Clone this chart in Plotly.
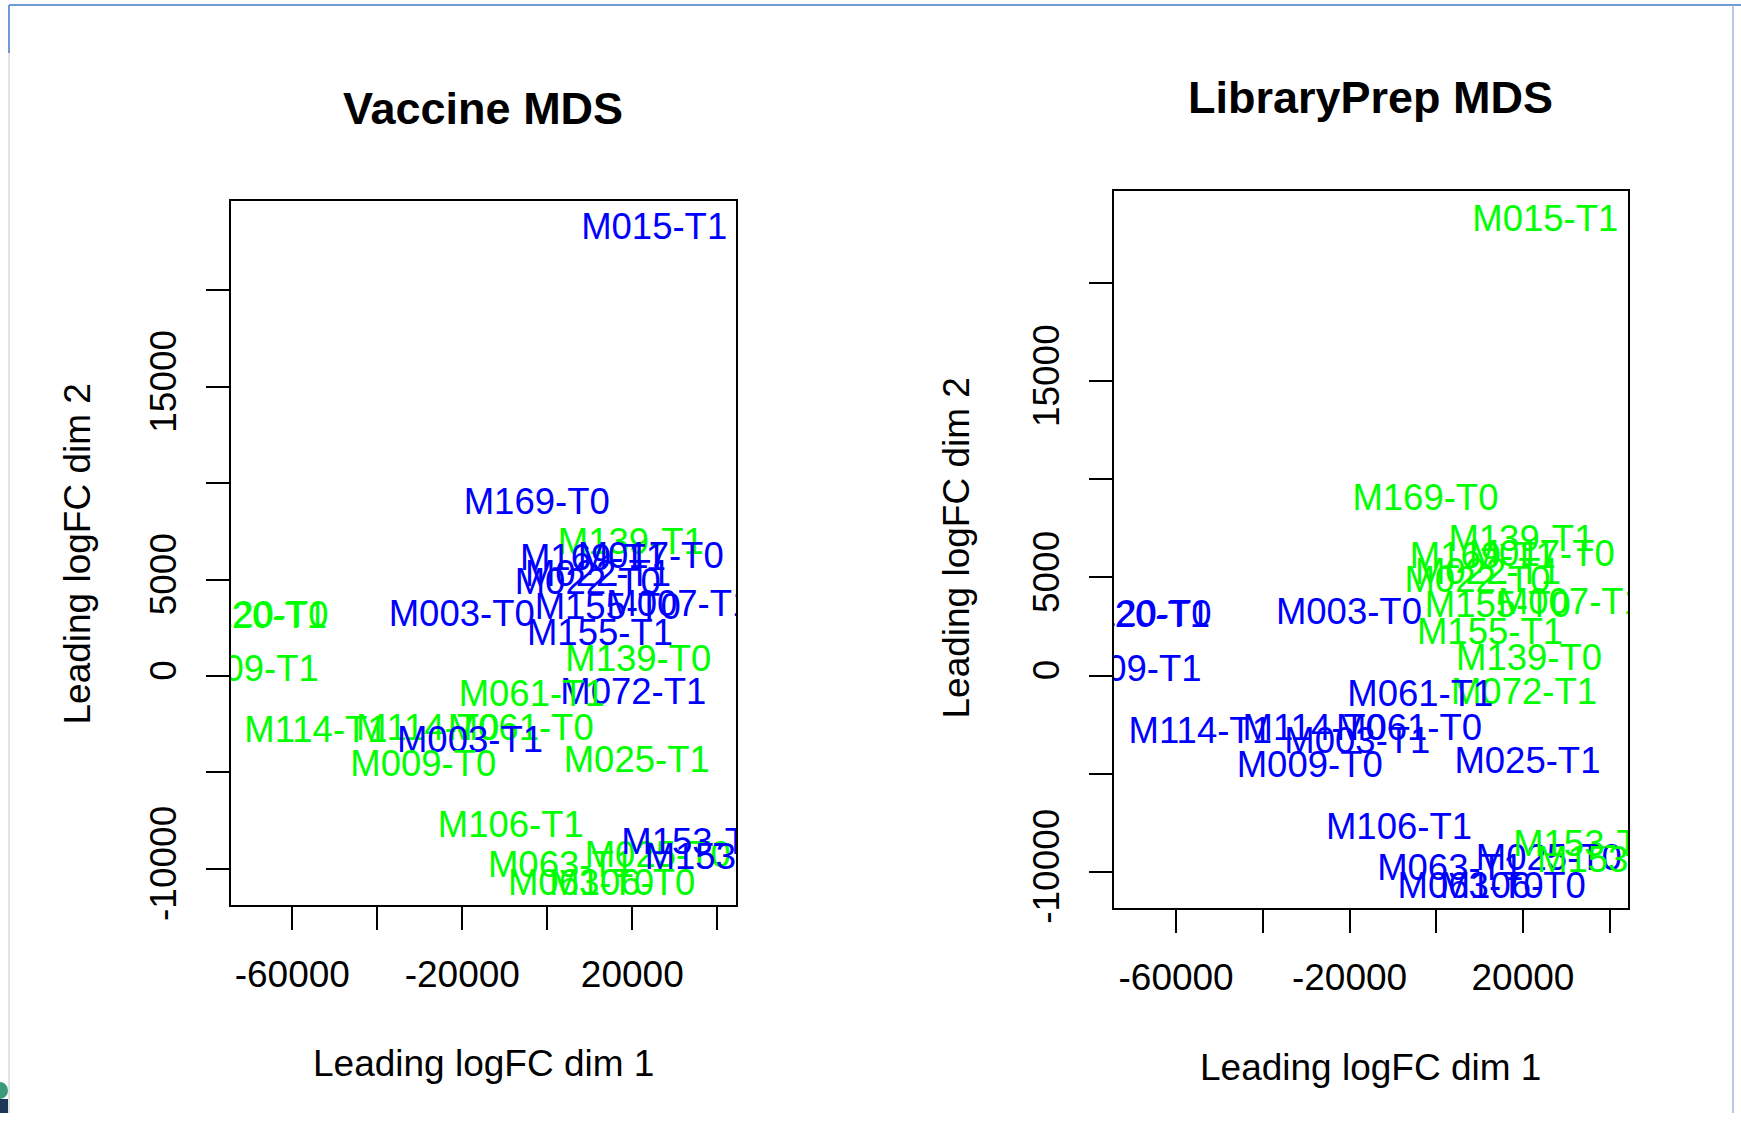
import plotly.graph_objects as go

W, H = 1741, 1128
# height the page actually lays the figure out at in the viewer
H_EFF = 1114

# MDS coordinates (leading logFC dims 1 and 2) for each sample
samples = [
    "M015-T1", "M169-T0", "M139-T1", "M169-T1", "M017-T0", "M022-T0",
    "M022-T1", "M155-T0", "M007-T1", "M155-T1", "M003-T0", "M120-T0",
    "M120-T1", "M009-T1", "M139-T0", "M072-T1", "M061-T1", "M114-T1",
    "M114-T0", "M061-T0", "M003-T1", "M009-T0", "M025-T1", "M106-T1",
    "M063-T1", "M025-T0", "M153-T1", "M153-T0", "M063-T0", "M106-T0",
]
dim1 = [
    25150, -2490, 19650, 10750, 24330, 9510,
    11930, 14210, 31060, 12400, -20140, -68660,
    -69010, -70960, 21410, 20240, -3670, -54420,
    -28140, -6260, -18190, -29180, 21040, -8590,
    3220, 25980, 34590, 40090, 7930, 17650,
]
dim2 = [
    23120, 8890, 6820, 5950, 6060, 4710,
    5120, 3430, 3600, 2090, 3090, 3000,
    2960, 200, 750, -980, -1100, -2960,
    -2830, -2830, -3480, -4690, -4520, -7880,
    -9960, -9440, -8750, -9530, -10860, -10860,
]
# group membership used for colouring each panel
vaccine_group = [
    "1", "1", "2", "1", "1", "1",
    "1", "1", "1", "1", "1", "2",
    "2", "2", "2", "1", "2", "2",
    "2", "2", "1", "2", "2", "2",
    "2", "2", "1", "1", "2", "2",
]
libprep_group = [
    "2", "2", "2", "2", "2", "2",
    "2", "2", "2", "2", "1", "1",
    "1", "1", "2", "2", "1", "1",
    "1", "1", "1", "1", "1", "1",
    "1", "1", "2", "2", "1", "1",
]

panel_titles = ["Vaccine MDS", "LibraryPrep MDS"]
x_title = "Leading logFC dim 1"
y_title = "Leading logFC dim 2"
x_tickvals = [-60000, -40000, -20000, 0, 20000, 40000]
x_ticktext = ["-60000", "", "-20000", "", "20000", ""]
y_tickvals = [-10000, -5000, 0, 5000, 10000, 15000, 20000]
y_ticktext = ["-10000", "", "0", "5000", "", "15000", ""]

group_colors = {"1": "#0000FF", "2": "#00FF00"}
FONT = "Liberation Sans, Arial, Helvetica, sans-serif"


def px_x(v):
    return v / W


def px_y(v):
    return 1 - v / H_EFF


# plot-region boxes in page pixels: (left, top, right, bottom)
boxes = [(231, 201, 736, 906), (1114, 191, 1628, 909.3)]
x_ranges = [[-74424, 44400], [-74320, 44232]]
y_ranges = [[-11881, 24648], [-11873, 24703]]

fig = go.Figure()

for i, groups in enumerate([vaccine_group, libprep_group]):
    sfx = "" if i == 0 else str(i + 1)
    fig.add_trace(go.Scatter(
        x=dim1, y=dim2, mode="text", text=samples,
        textposition="middle center",
        textfont=dict(family=FONT, size=36.5,
                      color=[group_colors[g] for g in groups]),
        cliponaxis=True, hoverinfo="skip", showlegend=False,
        xaxis="x" + sfx, yaxis="y" + sfx,
    ))
    l, t, r, b = boxes[i]
    axis_common = dict(
        showgrid=False, zeroline=False, showline=True, linecolor="black",
        linewidth=2, mirror=True, ticks="outside", ticklen=23, tickwidth=1.5,
        tickcolor="black", tickfont=dict(family=FONT, size=37, color="black"),
        fixedrange=True,
    )
    fig.layout["xaxis" + sfx] = dict(
        axis_common, domain=[px_x(l), px_x(r)], range=x_ranges[i],
        tickmode="array", tickvals=x_tickvals, ticktext=x_ticktext,
        anchor="y" + sfx, ticklabelstandoff=12,
    )
    fig.layout["yaxis" + sfx] = dict(
        axis_common, domain=[px_y(b), px_y(t)], range=y_ranges[i],
        tickmode="array", tickvals=y_tickvals, ticktext=y_ticktext,
        tickangle=-90, anchor="x" + sfx, ticklabelstandoff=15,
    )

annotations = []
title_pos = [(483, 109), (1370, 98)]
xlab_pos = [(483.5, 1064), (1370, 1068)]
ylab_pos = [(78, 555), (957, 549)]
for i in range(2):
    annotations.append(dict(
        text="<b>%s</b>" % panel_titles[i], x=px_x(title_pos[i][0]),
        y=px_y(title_pos[i][1]), xref="paper", yref="paper",
        xanchor="center", yanchor="middle", showarrow=False,
        font=dict(family=FONT, size=45, color="black")))
    annotations.append(dict(
        text=x_title, x=px_x(xlab_pos[i][0]), y=px_y(xlab_pos[i][1]),
        xref="paper", yref="paper", xanchor="center", yanchor="middle",
        showarrow=False, font=dict(family=FONT, size=37, color="black")))
    annotations.append(dict(
        text=y_title, x=px_x(ylab_pos[i][0]), y=px_y(ylab_pos[i][1]),
        xref="paper", yref="paper", xanchor="center", yanchor="middle",
        textangle=-90, showarrow=False,
        font=dict(family=FONT, size=37, color="black")))

# window frame around the page
shapes = [
    dict(type="line", xref="paper", yref="paper", x0=px_x(9), x1=1,
         y0=px_y(5), y1=px_y(5), line=dict(color="#6f9ad6", width=2)),
    dict(type="line", xref="paper", yref="paper", x0=px_x(9), x1=px_x(9),
         y0=px_y(5), y1=px_y(53), line=dict(color="#6f9ad6", width=2)),
    dict(type="line", xref="paper", yref="paper", x0=px_x(9), x1=px_x(9),
         y0=px_y(53), y1=0, line=dict(color="#c8c8c8", width=1)),
    dict(type="line", xref="paper", yref="paper", x0=px_x(1733), x1=px_x(1733),
         y0=px_y(5), y1=0, line=dict(color="#9fb6d8", width=1.5)),
    dict(type="circle", xref="paper", yref="paper", x0=px_x(-8), x1=px_x(8),
         y0=px_y(1100), y1=px_y(1083), fillcolor="#3a9a7a",
         line=dict(width=0)),
    dict(type="rect", xref="paper", yref="paper", x0=0, x1=px_x(8),
         y0=0, y1=px_y(1100), fillcolor="#1d3557", line=dict(width=0)),
]

fig.update_layout(
    width=W, height=H, margin=dict(l=0, r=0, t=0, b=0),
    paper_bgcolor="white", plot_bgcolor="white",
    annotations=annotations, shapes=shapes, showlegend=False,
)

fig.write_html("out.html", config={"displayModeBar": False})
